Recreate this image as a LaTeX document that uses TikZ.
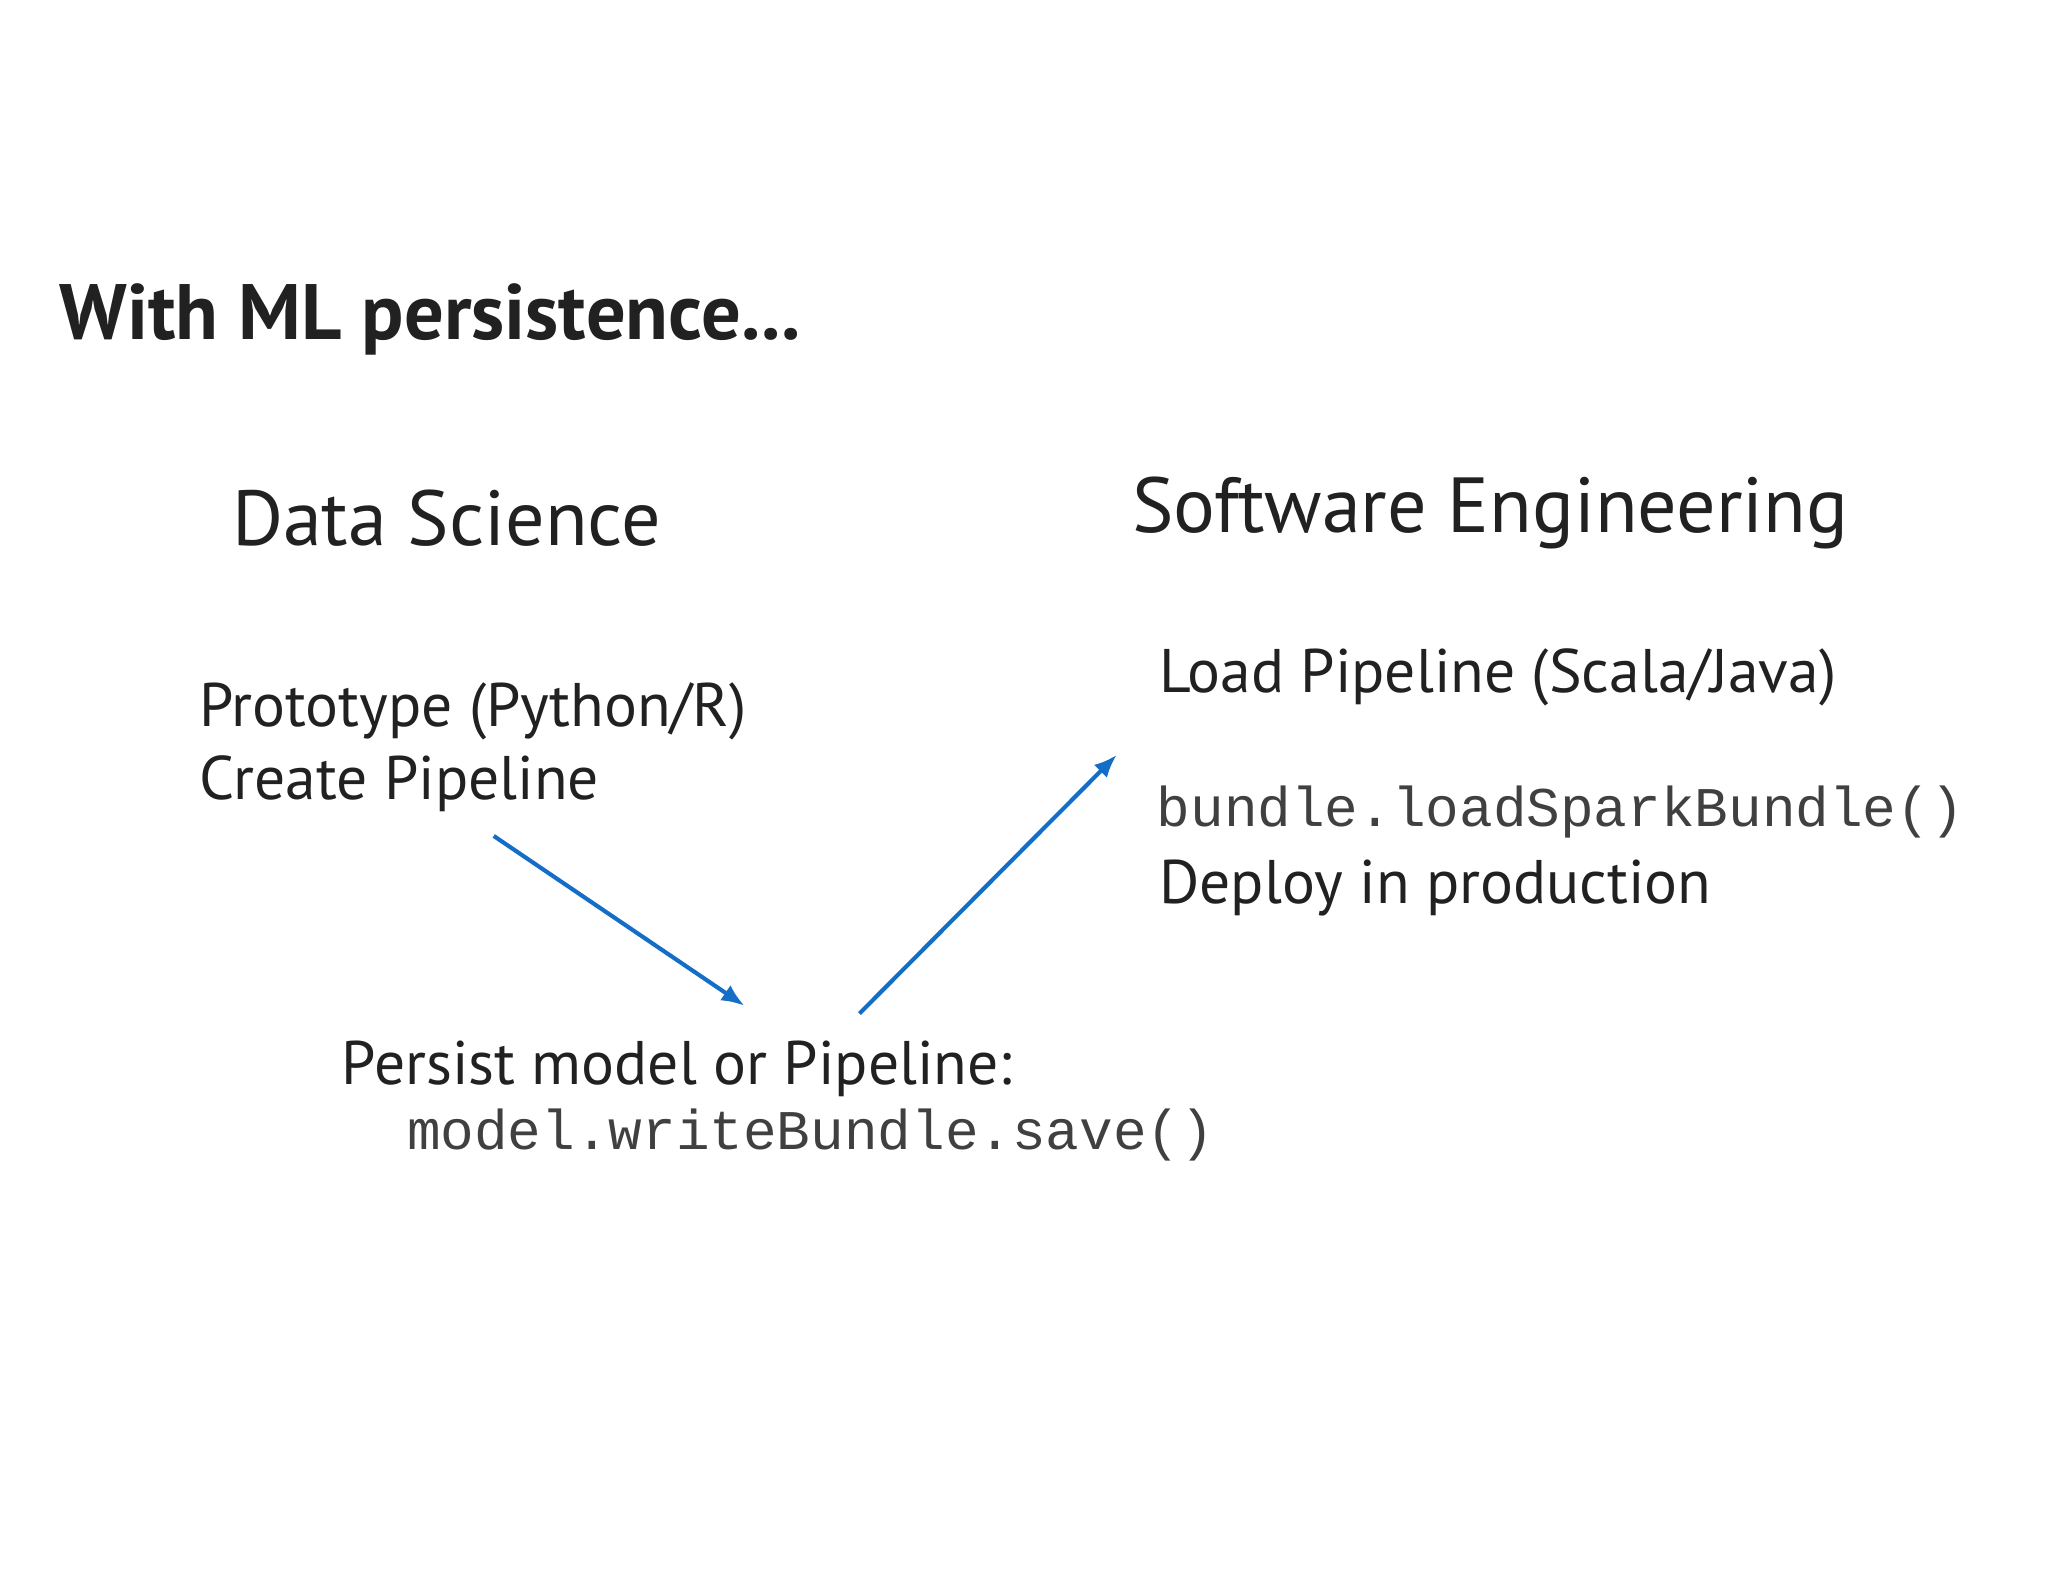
\documentclass[tikz,border=0pt]{standalone}
\usepackage{fontspec}
\usetikzlibrary{arrows.meta}
\setmainfont{PT Sans}
\setmonofont{Liberation Mono}
\begin{document}
\begin{tikzpicture}[x=0.01cm,y=-0.01cm,
  txt/.style={anchor=base west,inner sep=0pt,text=black!87},
  body/.style={txt,font=\fontsize{13.4}{16}\selectfont},
  code/.style={txt,text=black!75,font=\ttfamily\fontsize{12.2}{14}\selectfont},
  head/.style={txt,font=\fontsize{17.0}{20}\selectfont},
  arr/.style={-{Latex[length=5pt,width=4pt]},draw={rgb,255:red,20;green,110;blue,200},line width=0.9pt}]
\useasboundingbox (0,0) rectangle (1568,1211);
\node[txt,font=\bfseries\fontsize{17.1}{20}\selectfont] (title) at (45,260) {With ML persistence...};
\node[head] (ds) at (177,418) {Data Science};
\node[head] (se) at (866,408) {Software Engineering};
\node[body] (proto) at (152,556) {Prototype (Python/R)};
\node[body] (create) at (152,612) {Create Pipeline};
\node[body] (load) at (887,530) {Load Pipeline (Scala/Java)};
\node[code] (bundle) at (885,633) {bundle.loadSparkBundle()};
\node[body] (deploy) at (887,692) {Deploy in production};
\node[body] (persist) at (261,830) {Persist model or Pipeline:};
\node[code] (save) at (311,880) {model.writeBundle.save()};
\coordinate (a1) at (378,640);
\coordinate (a2) at (570,770);
\coordinate (b1) at (658,776);
\coordinate (b2) at (855,578);
\draw[arr] (a1) -- (a2);
\draw[arr] (b1) -- (b2);
\end{tikzpicture}
\end{document}
